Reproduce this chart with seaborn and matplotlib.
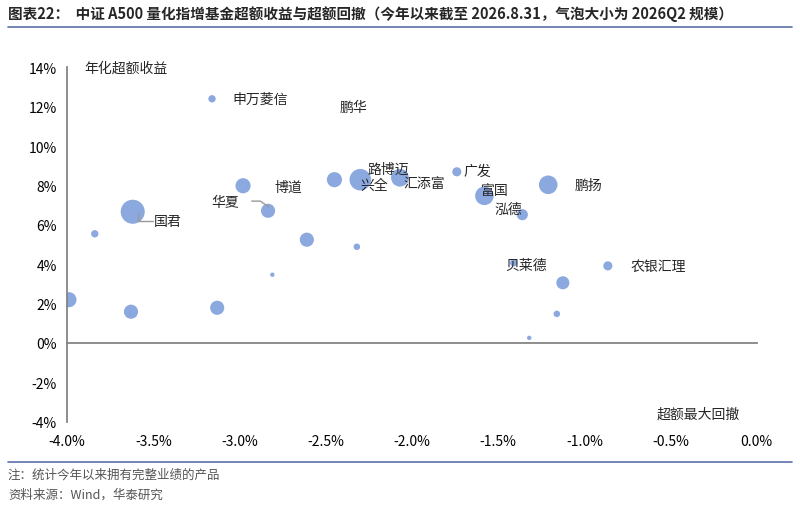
import matplotlib
matplotlib.use("Agg")
import matplotlib.pyplot as plt
import seaborn as sns
import pandas as pd
from matplotlib.ticker import FuncFormatter

sns.set_theme(style="white")
plt.rcParams['font.family'] = ['Noto Sans CJK SC', 'DejaVu Sans']

drawdown = [-3.16, -3.84, -3.62, -3.99, -3.63, -3.13, -2.98, -2.835, -2.61, -2.81, -2.45, -2.32,
            -2.30, -2.07, -1.74, -1.58, -1.36, -1.21, -1.41, -0.864, -1.125, -1.16, -1.32]
excess = [12.40, 5.54, 6.66, 2.19, 1.58, 1.78, 7.98, 6.71, 5.24, 3.46, 8.29, 4.88,
          8.29, 8.39, 8.69, 7.47, 6.51, 8.03, 4.07, 3.91, 3.05, 1.47, 0.25]
scale = [10, 10, 100, 40, 35, 35, 40, 35, 35, 4, 40, 8,
         80, 55, 15, 60, 22, 60, 10, 15, 30, 8, 4]
names = ["申万菱信", "", "国君", "", "", "", "", "华夏", "", "", "", "",
         "兴全", "汇添富", "广发", "富国", "泓德", "鹏扬", "贝莱德", "农银汇理", "", "", ""]
extra_labels = ["博道", "路博迈", "鹏华"]
extra_x = [-2.80, -2.26, -2.42]
extra_y = [7.95, 8.85, 12.0]

df = pd.DataFrame({"x": drawdown, "y": excess, "s": scale})

fig = plt.figure(figsize=(8, 5.06), dpi=100)
ax = fig.add_axes([0.084, 0.165, 0.862, 0.70])
sns.scatterplot(data=df, x="x", y="y", size="s", sizes=(10, 300), color="#7f9fdc",
                alpha=0.9, edgecolor="none", legend=False, ax=ax)
ax.set_xlim(-4, 0)
ax.set_ylim(-4, 14)
ax.set_xticks([-4, -3.5, -3, -2.5, -2, -1.5, -1, -0.5, 0])
ax.set_yticks(range(-4, 15, 2))
ax.xaxis.set_major_formatter(FuncFormatter(lambda v, p: f"{v:.1f}%"))
ax.yaxis.set_major_formatter(FuncFormatter(lambda v, p: f"{v:.0f}%"))
ax.spines['left'].set_position(('data', -4))
ax.spines['bottom'].set_position(('data', 0))
ax.spines['bottom'].set_bounds(-4, 0)
for s in ['top', 'right']:
    ax.spines[s].set_visible(False)
for s in ['left', 'bottom']:
    ax.spines[s].set_color('#808080')
ax.tick_params(axis='both', length=4, color='#808080', direction='out', labelsize=10, colors='black')
ax.tick_params(axis='x', pad=62)
ax.set_xlabel(""); ax.set_ylabel("")

offsets = {"申万菱信": (0.12, 0), "国君": (0.12, -0.45), "华夏": (-0.33, 0.45), "兴全": (0.0, -0.25),
           "汇添富": (0.02, -0.25), "广发": (0.04, 0.05), "富国": (-0.02, 0.3), "泓德": (-0.16, 0.3),
           "鹏扬": (0.15, 0), "贝莱德": (-0.05, -0.1), "农银汇理": (0.13, 0)}
for x, y, n in zip(drawdown, excess, names):
    if n:
        dx, dy = offsets[n]
        ax.text(x + dx, y + dy, n, fontsize=10, va='center', ha='left')
for n, x, y in zip(extra_labels, extra_x, extra_y):
    ax.text(x, y, n, fontsize=10, va='center', ha='left')
ax.plot([-3.59, -3.59, -3.5], [6.6, 6.2, 6.2], color='#999999', lw=1)
ax.plot([-2.93, -2.88, -2.83], [7.2, 7.2, 6.9], color='#999999', lw=1)
ax.text(-3.9, 14, "年化超额收益", fontsize=10, va='center')
ax.text(-0.58, -3.6, "超额最大回撤", fontsize=10, va='center')

fig.text(0.01, 0.972, "图表22：  中证 A500 量化指增基金超额收益与超额回撤（今年以来截至 2026.8.31，气泡大小为 2026Q2 规模）",
         fontsize=10.5, fontweight='bold', va='center')
fig.add_artist(plt.Line2D([0.01, 0.99], [0.945, 0.945], color='#5b6fa8', lw=1.2))
fig.add_artist(plt.Line2D([0.01, 0.99], [0.085, 0.085], color='#5b6fa8', lw=1.2))
fig.text(0.01, 0.062, "注：统计今年以来拥有完整业绩的产品", fontsize=9, color='#555555', va='center')
fig.text(0.01, 0.022, "资料来源：Wind，华泰研究", fontsize=9, color='#555555', va='center')
fig.savefig("out.png", dpi=100)
